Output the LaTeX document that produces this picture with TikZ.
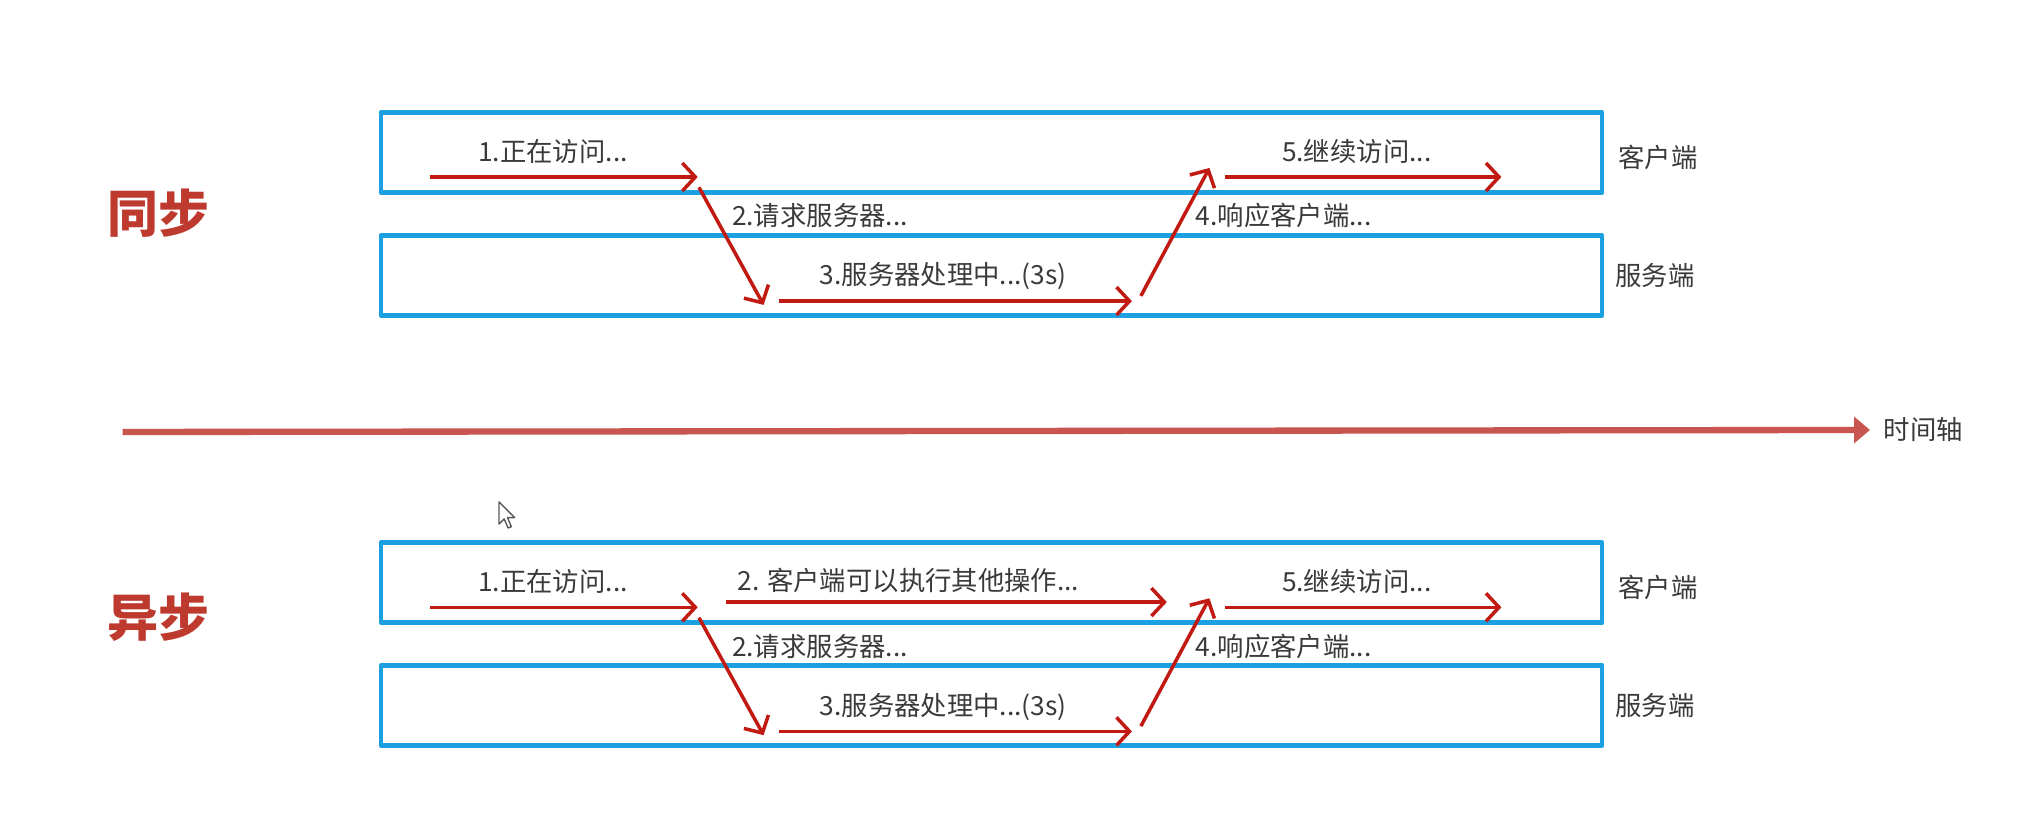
\documentclass[tikz,border=0pt]{standalone}
\usepackage{fontspec}
\setmainfont{Noto Sans CJK SC}
\usetikzlibrary{arrows.meta}
\definecolor{laneblue}{HTML}{1BA1E2}
\definecolor{flowred}{HTML}{C01A12}
\definecolor{axisred}{HTML}{C8554F}
\definecolor{titlered}{HTML}{BF3A2E}
\definecolor{txtgray}{HTML}{3A3A3A}
\tikzset{
  lane/.style={draw=laneblue, line width=1.4pt, minimum width=12.21cm, minimum height=0.80cm, inner sep=0pt},
  flow/.style={draw=flowred, line width=1pt, -{Straight Barb[length=1.3mm,width=2.8mm]}},
  timeline/.style={draw=axisred, line width=1.8pt, -{Triangle[length=1.6mm,width=2.6mm]}},
  lbl/.style={text=txtgray, font=\fontsize{7.5}{9}\selectfont, inner sep=0pt},
  ttl/.style={text=titlered, font=\fontsize{14.5}{16}\selectfont\bfseries, inner sep=0pt},
}
\begin{document}
\begin{tikzpicture}[line join=round]
	\useasboundingbox (0,0) rectangle (20.26,8.38);
	
	% two panels: sync on top, async below
	\foreach \p/\dy/\ty/\name in {s/0/6.248/同步, a/-4.303/6.507/异步}{
		\begin{scope}[yshift=\dy cm]
			\node[lane] (cli\p) at (9.915,6.856) {};
			\node[lane] (srv\p) at (9.915,5.628) {};
			\node[lbl] (ncli\p) at (16.58,6.804) {客户端};
			\node[lbl] (nsrv\p) at (16.55,5.628) {服务端};
			\node[ttl] (title\p) at (1.589,\ty) {\name};
			
			\coordinate (a1\p) at (4.303,6.610);
			\coordinate (b1\p) at (6.977,6.610);
			\coordinate (a2\p) at (6.990,6.506);
			\coordinate (b2\p) at (7.636,5.331);
			\coordinate (a3\p) at (7.791,5.369);
			\coordinate (b3\p) at (11.319,5.369);
			\coordinate (a4\p) at (11.409,5.421);
			\coordinate (b4\p) at (12.094,6.700);
			\coordinate (a5\p) at (12.249,6.610);
			\coordinate (b5\p) at (15.014,6.610);
			\foreach \i in {1,...,5} \draw[flow] (a\i\p) -- (b\i\p);
			
			\node[lbl] (t1\p) at (5.530,6.868) {1.正在访问...};
			\node[lbl, anchor=west] (t2\p) at (7.313,6.222) {2.请求服务器...};
			\node[lbl] (t3\p) at (9.432,5.615) {3.服务器处理中...(3s)};
			\node[lbl, anchor=west] (t4\p) at (11.95,6.222) {4.响应客户端...};
			\node[lbl] (t5\p) at (13.567,6.868) {5.继续访问...};
		\end{scope}
	}
	
	% async: client keeps working
	\coordinate (a6) at (7.262,2.359);
	\coordinate (b6) at (11.668,2.359);
	\draw[flow] (a6) -- (b6);
	\node[lbl] (t6) at (9.083,2.579) {2. 客户端可以执行其他操作...};
	
	% time axis
	\coordinate (t0) at (1.227,4.06);
	\node[lbl, anchor=west] (axis) at (18.83,4.08) {时间轴};
	\draw[timeline] (t0) -- ([xshift=-1.3mm]axis.west);
	
	% mouse pointer
	\begin{scope}[shift={(4.99,3.36)}, x=0.013cm, y=0.013cm]
		\draw[fill=white, draw=black!65, line width=0.4pt] (0,0) -- (0,-17) -- (4,-13) -- (7,-20) -- (9.5,-19) -- (6.5,-12) -- (12,-12) -- cycle;
	\end{scope}
\end{tikzpicture}
\end{document}
